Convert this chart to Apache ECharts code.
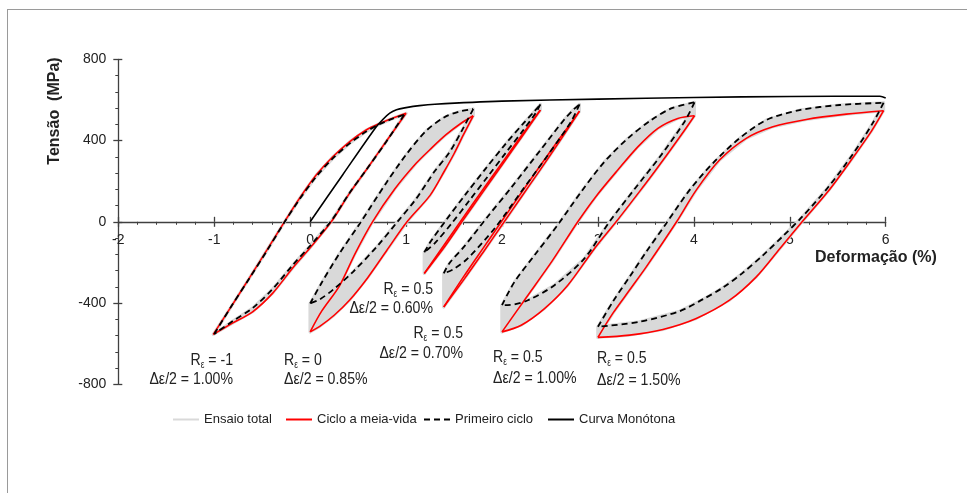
<!DOCTYPE html>
<html><head><meta charset="utf-8">
<script src="https://cdn.jsdelivr.net/npm/echarts@6/dist/echarts.min.js"></script>
<style>html,body{margin:0;padding:0;background:#fff}#c{width:967px;height:493px}</style>
</head><body><div id="c"></div>
<script>
// ---- axis ranges [min, max, interval] ----
const strainAxis = [-2, 6, 1];
const stressAxis = [-800, 800, 400];

// ---- legend names ----
const legendNames = ['Ensaio total', 'Ciclo a meia-vida', 'Primeiro ciclo', 'Curva Monótona'];

// ---- annotation texts ----
const ratioLabels = ['-1', '0', '0.5', '0.5', '0.5', '0.5'];
const amplitudeLabels = ['1.00%', '0.85%', '0.60%', '0.70%', '1.00%', '1.50%'];

// ---- Monotonic curve [strain %, stress MPa] ----
const monotonic = [[0,0],[0.34,232],[0.68,462],[0.76,505],[0.83,535],[0.9,552],[1.0,562],[1.14,572],[1.3,579],[2.0,594],[3.0,604],[4.0,612],[5.0,617],[5.94,618],[6.0,610]];

// ---- Loop 1: Re=-1, 1.00% ----
const loop1HalfLoad = [[-1.01,-554],[-0.82,-415],[-0.633,-276],[-0.45,-138],[-0.268,0],[-0.112,115],[0.063,230],[0.236,320],[0.41,394],[0.584,452],[0.723,484],[0.861,510],[1.0,534]];
const loop1HalfUnload = [[1.0,534],[0.79,394],[0.584,255],[0.41,140],[0.22,0],[0.0,-128],[-0.18,-226],[-0.39,-351],[-0.6,-443],[-0.81,-499],[-1.01,-554]];
const loop1FirstLoad = [[-1.0,-552],[-0.82,-415],[-0.633,-278],[-0.45,-142],[-0.268,-2],[-0.112,110],[0.063,222],[0.236,312],[0.41,385],[0.584,444],[0.723,480],[0.861,508],[0.98,527]];
const loop1FirstUnload = [[0.98,527],[0.79,392],[0.584,255],[0.41,142],[0.22,5],[0.0,-118],[-0.18,-212],[-0.39,-330],[-0.6,-425],[-0.81,-490],[-1.0,-552]];

// ---- Loop 2: Re=0, 0.85% ----
const loop2HalfLoad = [[0,-542],[0.12,-440],[0.306,-315],[0.47,-155],[0.65,0],[0.88,160],[1.105,288],[1.27,365],[1.42,430],[1.57,484],[1.7,522]];
const loop2HalfUnload = [[1.7,522],[1.6,430],[1.5,335],[1.4,250],[1.25,130],[1.01,0],[0.8,-140],[0.6,-275],[0.41,-386],[0.25,-460],[0.1,-515],[0,-542]];
const loop2FirstLoad = [[0,-402],[0.12,-300],[0.3,-160],[0.53,0],[0.79,189],[1.0,330],[1.21,448],[1.4,515],[1.55,542],[1.7,555]];
const loop2FirstUnload = [[1.7,555],[1.6,465],[1.45,340],[1.3,250],[1.1,110],[0.91,0],[0.7,-120],[0.45,-245],[0.25,-330],[0.1,-382],[0,-402]];

// ---- Loop 3: Re=0.5, 0.60% ----
const loop3HalfLoad = [[1.19,-254],[1.4,-112],[1.6,24],[1.8,158],[2.0,290],[2.2,422],[2.4,550]];
const loop3HalfUnload = [[2.4,550],[2.2,414],[2.0,280],[1.8,146],[1.6,12],[1.4,-124],[1.19,-254]];
const loop3FirstLoad = [[1.19,-150],[1.26,-95],[1.42,10],[1.62,135],[1.83,262],[2.04,385],[2.23,488],[2.33,540],[2.4,578]];
const loop3FirstUnload = [[2.4,578],[2.35,535],[2.22,450],[2.04,340],[1.85,222],[1.66,105],[1.48,-5],[1.3,-105],[1.19,-150]];

// ---- Loop 4: Re=0.5, 0.70% ----
const loop4HalfLoad = [[1.393,-419],[1.6,-270],[1.8,-132],[2.0,5],[2.2,142],[2.4,277],[2.6,410],[2.808,545]];
const loop4HalfUnload = [[2.808,545],[2.6,396],[2.4,257],[2.2,121],[2.0,-16],[1.8,-152],[1.6,-286],[1.393,-419]];
const loop4FirstLoad = [[1.393,-254],[1.45,-205],[1.609,-120],[1.85,25],[2.096,168],[2.409,358],[2.652,505],[2.74,550],[2.808,578]];
const loop4FirstUnload = [[2.808,578],[2.72,493],[2.478,328],[2.2,148],[1.922,-33],[1.643,-180],[1.5,-232],[1.393,-254]];

// ---- Loop 5: Re=0.5, 1.00% ----
const loop5HalfLoad = [[2.0,-542],[2.25,-375],[2.52,-195],[2.79,0],[2.98,125],[3.207,255],[3.416,369],[3.625,460],[3.833,509],[4.007,522]];
const loop5HalfUnload = [[4.007,522],[3.868,427],[3.59,246],[3.486,181],[3.19,0],[2.965,-131],[2.686,-312],[2.443,-427],[2.2,-509],[2.0,-542]];
const loop5FirstLoad = [[2.0,-410],[2.13,-296],[2.34,-164],[2.58,-16],[2.826,148],[3.069,296],[3.312,411],[3.556,501],[3.764,558],[4.007,588]];
const loop5FirstUnload = [[4.007,588],[3.903,493],[3.66,329],[3.38,160],[3.12,0],[2.86,-180],[2.547,-312],[2.27,-386],[2.06,-410],[2.0,-410]];

// ---- Loop 6: Re=0.5, 1.50% ----
const loop6HalfLoad = [[3.0,-569],[3.155,-451],[3.33,-336],[3.504,-222],[3.82,0],[4.025,156],[4.268,304],[4.546,411],[4.824,468],[5.172,504],[5.589,530],[5.978,547]];
const loop6HalfUnload = [[5.978,547],[5.85,445],[5.65,310],[5.4,150],[5.12,-5],[4.9,-130],[4.651,-271],[4.372,-386],[4.025,-476],[3.677,-530],[3.33,-558],[3.0,-569]];
const loop6FirstLoad = [[3.0,-517],[3.155,-394],[3.33,-271],[3.504,-148],[3.712,-8],[3.955,156],[4.198,288],[4.476,411],[4.755,501],[5.102,550],[5.519,575],[5.978,586]];
const loop6FirstUnload = [[5.978,586],[5.87,490],[5.66,335],[5.4,170],[5.13,25],[4.93,-70],[4.72,-165],[4.5,-255],[4.3,-325],[4.1,-380],[3.851,-440],[3.434,-492],[3.0,-517]];

// ---------------- build ----------------
const loops = [
  [loop1HalfLoad, loop1HalfUnload, loop1FirstLoad, loop1FirstUnload],
  [loop2HalfLoad, loop2HalfUnload, loop2FirstLoad, loop2FirstUnload],
  [loop3HalfLoad, loop3HalfUnload, loop3FirstLoad, loop3FirstUnload],
  [loop4HalfLoad, loop4HalfUnload, loop4FirstLoad, loop4FirstUnload],
  [loop5HalfLoad, loop5HalfUnload, loop5FirstLoad, loop5FirstUnload],
  [loop6HalfLoad, loop6HalfUnload, loop6FirstLoad, loop6FirstUnload]
];

const bands = [];
loops.forEach(l => {
  bands.push(l[2].concat(l[0].slice().reverse()));
  bands.push(l[3].concat(l[1].slice().reverse()));
});

const SANS = "'Liberation Sans',Arial,sans-serif";
const RED = '#ff0000', GRAY = '#d9d9d9', AX = '#404040', TXT = '#222';

const series = [];
series.push({type:'line', name:legendNames[0], data:[], symbol:'none', lineStyle:{color:GRAY, width:3}, itemStyle:{color:GRAY}});
series.push({
  type:'custom', name:'band', coordinateSystem:'cartesian2d', silent:true, z:1,
  data: bands.map((b,i)=>[b[0][0], b[0][1], i]),
  encode:{x:0, y:1},
  renderItem: function(params, api){
    const pts = bands[api.value(2)].map(p => api.coord(p));
    return {type:'polygon', shape:{points:pts}, style:{fill:GRAY, stroke:GRAY, lineWidth:3, lineJoin:'round'}};
  }
});
loops.forEach(l => {
  [l[0], l[1]].forEach(arr => series.push({
    type:'line', name:legendNames[1], data:arr, symbol:'none', smooth:0.3, z:3, silent:true,
    lineStyle:{color:RED, width:1.6}, itemStyle:{color:RED}
  }));
});
loops.forEach(l => {
  [l[2], l[3]].forEach(arr => series.push({
    type:'line', name:legendNames[2], data:arr, symbol:'none', smooth:0.3, z:4, silent:true,
    lineStyle:{color:'#000', width:1.8, type:[6,4]}, itemStyle:{color:'#000'}
  }));
});
series.push({type:'line', name:legendNames[3], data:monotonic, symbol:'none', smooth:0.3, z:5, silent:true,
  lineStyle:{color:'#000', width:1.6}, itemStyle:{color:'#000'}});

// layout
const G = {left:118.3, right:81.3, top:59.3, bottom:108.7};
const plotH = 493 - G.top - G.bottom;
const zeroOffset = -plotH * (0 - stressAxis[0]) / (stressAxis[1] - stressAxis[0]);

const annPos = [
  {x:233, y1:360, y2:379, align:'right'},
  {x:284, y1:360, y2:379, align:'left'},
  {x:433, y1:289, y2:308.5, align:'right'},
  {x:463, y1:333.5, y2:353, align:'right'},
  {x:493, y1:357, y2:378.5, align:'left'},
  {x:597, y1:358, y2:380, align:'left'}
];
const richStyle = {
  r:{fontFamily:SANS, fontSize:17, lineHeight:20, fill:TXT, color:TXT},
  s:{fontFamily:SANS, fontSize:10, lineHeight:13, verticalAlign:'bottom', fill:TXT, color:TXT}
};
const graphics = [
  {type:'line', shape:{x1:7, y1:9.5, x2:967, y2:9.5}, style:{stroke:'#9a9a9a', lineWidth:1}, silent:true},
  {type:'line', shape:{x1:7.5, y1:9, x2:7.5, y2:493}, style:{stroke:'#9a9a9a', lineWidth:1}, silent:true},
  {type:'text', x:55, y:111, rotation:Math.PI/2, style:{text:'Tensão  (MPa)', font:'bold 16px ' + SANS, fill:TXT, align:'center', verticalAlign:'middle'}, silent:true},
  {type:'text', x:815, y:258, style:{text:'Deformação (%)', font:'bold 16px ' + SANS, fill:TXT, align:'left', verticalAlign:'middle'}, silent:true}
];
annPos.forEach((p, i) => {
  graphics.push({type:'text', x:p.x, y:p.y1, scaleX:0.83, silent:true, style:{
    text:'{r|R}{s|ε}{r| = ' + ratioLabels[i] + '}', rich:richStyle, align:p.align, verticalAlign:'middle'}});
  graphics.push({type:'text', x:p.x, y:p.y2, scaleX:0.83, silent:true, style:{
    text:'Δε/2 = ' + amplitudeLabels[i], font:'17px ' + SANS, fill:TXT, align:p.align, verticalAlign:'middle'}});
});

const legendLefts = [172, 285, 423, 547];
const legends = legendNames.map((n, i) => ({
  data:[n], left:legendLefts[i], top:413, itemWidth:26, itemHeight:14, padding:0,
  itemStyle:{opacity:0}, selectedMode:false,
  textStyle:{fontFamily:SANS, fontSize:13, color:TXT}
}));

const axisLabelStyle = {fontFamily:SANS, fontSize:14, color:TXT};
const option = {
  animation:false,
  backgroundColor:'#fff',
  grid:Object.assign({containLabel:false}, G),
  legend:legends,
  xAxis:[
    {type:'value', min:strainAxis[0], max:strainAxis[1], interval:strainAxis[2], position:'bottom', offset:zeroOffset,
     axisLine:{onZero:false, lineStyle:{color:AX, width:1.3}},
     axisTick:{show:true, inside:false, length:5, lineStyle:{color:AX, width:1.3}},
     minorTick:{show:true, splitNumber:5, length:3, lineStyle:{color:AX, width:1}},
     axisLabel:Object.assign({margin:11}, axisLabelStyle),
     splitLine:{show:false}, minorSplitLine:{show:false}},
    {type:'value', min:strainAxis[0], max:strainAxis[1], interval:strainAxis[2], position:'bottom', offset:zeroOffset,
     axisLine:{show:false, onZero:false},
     axisTick:{show:true, inside:true, length:5, lineStyle:{color:AX, width:1.3}},
     axisLabel:{show:false}, splitLine:{show:false}}
  ],
  yAxis:[
    {type:'value', min:stressAxis[0], max:stressAxis[1], interval:stressAxis[2], position:'left',
     axisLine:{show:true, onZero:false, lineStyle:{color:AX, width:1.3}},
     axisTick:{show:true, inside:false, length:5, lineStyle:{color:AX, width:1.3}},
     minorTick:{show:true, splitNumber:5, length:3, lineStyle:{color:AX, width:1}},
     axisLabel:Object.assign({margin:12}, axisLabelStyle),
     splitLine:{show:false}, minorSplitLine:{show:false}},
    {type:'value', min:stressAxis[0], max:stressAxis[1], interval:stressAxis[2], position:'left', offset:0,
     axisLine:{show:false, onZero:false},
     axisTick:{show:true, inside:true, length:4, lineStyle:{color:AX, width:1.3}},
     axisLabel:{show:false}, splitLine:{show:false}}
  ],
  graphic:graphics,
  series:series
};
const chart = echarts.init(document.getElementById('c'), null, {renderer:'canvas'});
chart.setOption(option);
</script></body></html>
